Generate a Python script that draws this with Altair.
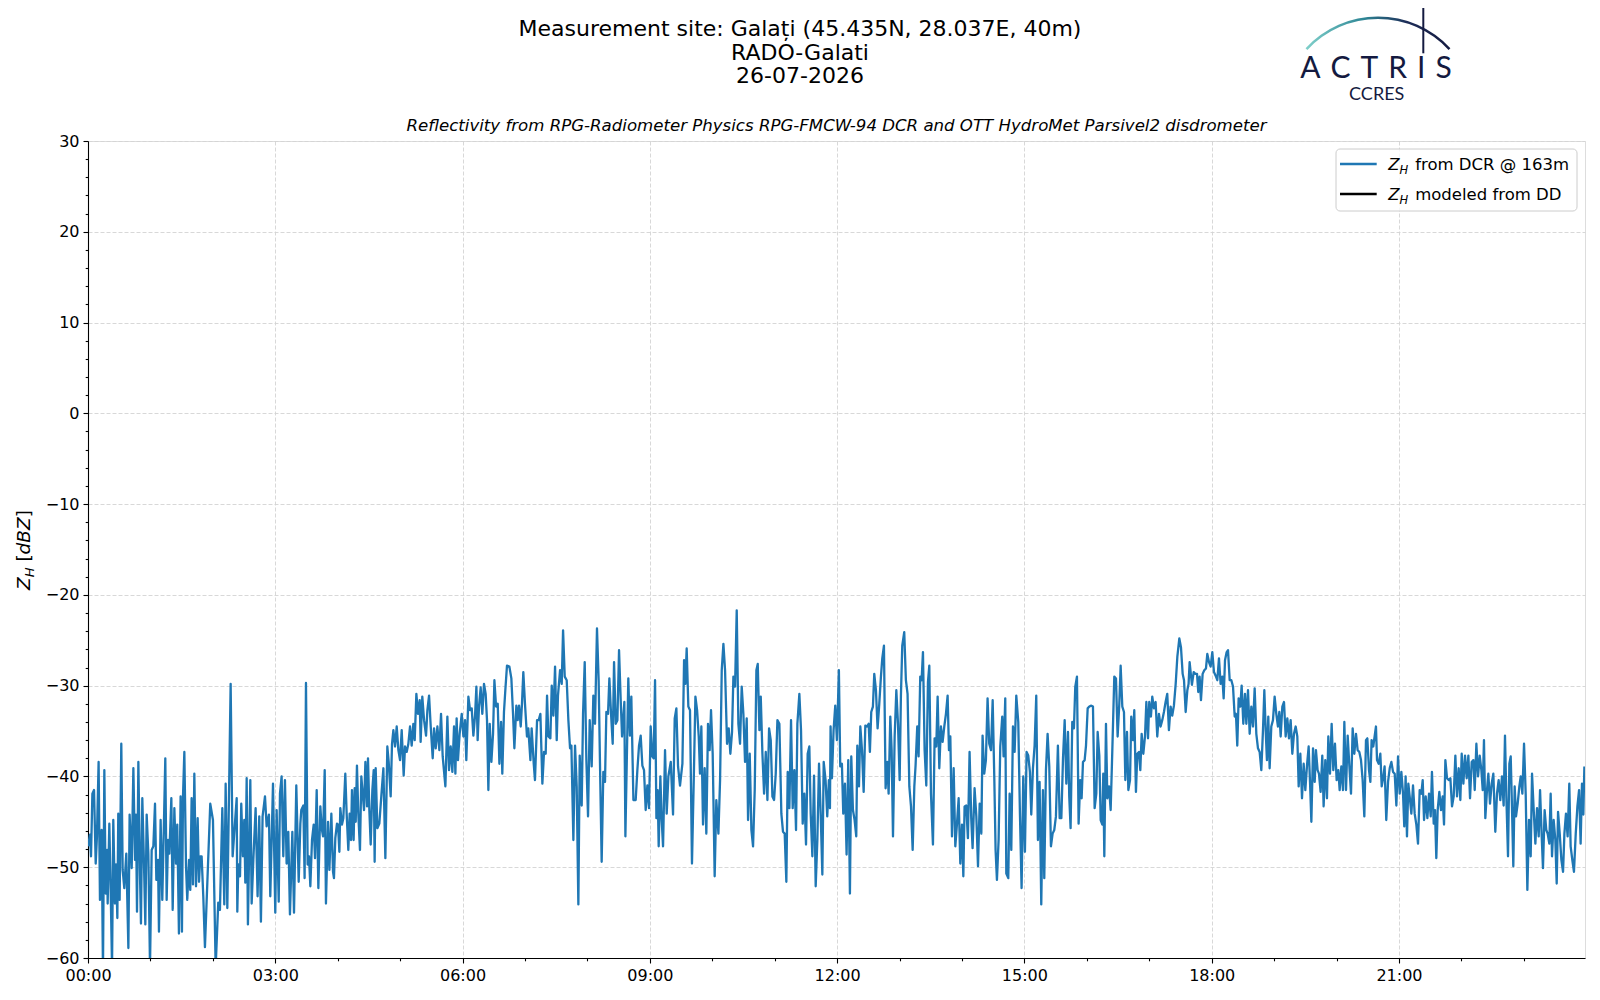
import altair as alt
import pandas as pd

# ---------------- data: [minutes after 00:00, Z_H dBZ] ----------------
zh_00_03 = [[0.0,-47.7],[1.9,-46.4],[2.9,-48.8],[4.2,-41.9],[5.8,-41.5],[7.4,-49.6],[8.6,-46.6],[10.2,-38.4],[11.5,-53.6],[13.1,-45.9],[14.4,-61.5],[15.7,-39.3],[17.0,-52.9],[18.3,-48.1],[18.9,-54.0],[20.5,-45.2],[21.8,-52.5],[23.1,-61.0],[24.3,-44.8],[25.9,-54.0],[26.9,-49.7],[28.2,-55.6],[29.1,-44.1],[30.4,-53.6],[32.0,-36.4],[33.3,-50.3],[34.9,-52.3],[36.8,-48.5],[38.8,-58.9],[40.0,-44.2],[42.0,-50.1],[43.6,-39.1],[45.2,-49.2],[46.1,-44.2],[47.1,-54.9],[48.4,-38.4],[50.0,-51.0],[50.9,-56.2],[52.2,-42.4],[53.8,-49.6],[55.1,-56.3],[56.4,-44.2],[58.0,-48.5],[59.6,-61.0],[61.2,-48.1],[62.8,-47.7],[64.4,-43.0],[65.7,-51.4],[67.3,-49.2],[68.2,-57.1],[69.8,-44.8],[71.4,-53.6],[74.3,-38.0],[75.6,-53.6],[76.9,-47.0],[78.2,-48.5],[80.1,-42.4],[81.4,-54.7],[83.0,-43.5],[84.6,-49.6],[85.8,-45.3],[87.4,-57.3],[89.0,-42.2],[90.3,-57.1],[91.3,-42.2],[92.6,-37.3],[94.2,-49.9],[95.4,-53.6],[97.1,-49.2],[98.3,-52.5],[99.6,-42.4],[100.9,-51.9],[102.2,-39.7],[103.8,-52.1],[105.4,-44.6],[106.7,-51.6],[107.9,-48.8],[109.2,-48.8],[110.8,-53.2],[112.4,-58.8],[117.5,-43.0],[120.1,-44.8],[122.7,-61.0],[125.2,-53.9],[126.8,-54.7],[129.1,-43.5],[131.0,-54.1],[132.3,-40.8],[133.9,-54.5],[137.1,-29.8],[139.0,-48.8],[142.9,-42.4],[143.5,-54.9],[144.5,-49.7],[146.1,-51.0],[147.3,-43.0],[148.9,-48.8],[150.2,-44.8],[151.2,-51.7],[152.5,-40.2],[153.7,-56.3],[156.0,-40.4],[157.3,-54.0],[158.9,-49.2],[161.1,-43.5],[163.0,-53.2],[164.6,-44.4],[166.2,-56.0],[167.8,-44.4],[170.1,-42.2],[171.7,-45.5],[173.9,-44.2],[175.2,-53.2],[177.8,-40.8],[180.0,-55.0]]

zh_03_06 = [[181.3,-43.7],[183.3,-53.8],[184.5,-41.9],[186.1,-40.0],[187.7,-48.8],[189.3,-40.4],[190.9,-49.6],[192.5,-46.1],[194.1,-55.2],[196.4,-46.1],[198.0,-55.0],[200.2,-41.0],[202.5,-51.6],[204.1,-45.2],[205.0,-43.7],[207.0,-43.2],[208.2,-51.2],[209.5,-29.7],[211.1,-49.7],[212.4,-48.8],[213.7,-52.1],[215.3,-47.0],[216.9,-45.3],[218.2,-49.0],[219.8,-41.5],[221.4,-52.3],[223.3,-43.3],[224.6,-45.7],[225.9,-46.6],[227.5,-39.3],[228.7,-54.0],[230.7,-45.0],[232.0,-50.3],[233.9,-44.1],[235.5,-50.5],[236.4,-51.2],[237.7,-46.8],[239.3,-45.2],[240.3,-45.3],[241.6,-48.3],[242.5,-43.5],[244.1,-45.3],[245.4,-44.6],[247.3,-39.7],[248.6,-44.1],[250.2,-48.1],[251.5,-44.1],[252.8,-47.0],[253.7,-41.5],[255.3,-47.0],[256.3,-41.3],[257.3,-45.0],[258.5,-38.8],[259.8,-44.1],[261.4,-48.1],[262.7,-40.0],[264.0,-41.9],[265.3,-43.7],[266.6,-38.4],[268.2,-43.3],[269.1,-38.0],[270.4,-43.7],[271.7,-47.5],[273.3,-41.5],[274.6,-39.3],[275.5,-49.4],[276.5,-39.1],[278.1,-45.7],[280.0,-45.2],[281.9,-42.2],[283.9,-39.1],[285.8,-49.0],[287.7,-36.7],[289.0,-38.4],[290.9,-42.2],[292.2,-36.4],[293.5,-34.9],[295.1,-36.7],[296.7,-34.5],[298.3,-37.1],[299.9,-38.2],[301.5,-34.9],[303.4,-39.9],[304.7,-36.7],[306.3,-37.3],[307.9,-36.4],[309.5,-34.5],[311.1,-36.6],[312.7,-34.2],[314.0,-36.0],[315.6,-30.9],[317.2,-33.1],[318.8,-31.6],[319.7,-36.2],[321.3,-31.2],[323.0,-33.8],[324.9,-35.5],[326.2,-32.7],[327.8,-31.1],[329.4,-34.5],[331.3,-38.0],[332.6,-34.7],[334.2,-36.9],[335.8,-34.5],[337.7,-37.1],[339.3,-33.1],[340.9,-37.8],[343.5,-41.1],[345.4,-33.4],[347.0,-39.3],[348.6,-36.7],[350.2,-39.5],[351.8,-34.5],[353.1,-39.7],[354.3,-33.6]]

zh_06_09 = [[355.6,-38.2],[357.2,-35.3],[359.2,-33.1],[360.8,-35.6],[362.4,-33.8],[363.6,-38.2],[365.6,-31.2],[367.2,-32.7],[368.8,-32.5],[370.4,-35.5],[372.0,-33.3],[373.3,-30.1],[374.5,-36.0],[375.8,-32.3],[377.4,-30.2],[379.0,-33.1],[380.6,-29.8],[382.2,-30.9],[383.5,-33.8],[384.8,-41.5],[386.1,-34.2],[387.7,-38.4],[389.3,-35.3],[390.6,-29.4],[392.2,-32.3],[393.8,-32.0],[395.4,-38.6],[397.0,-34.0],[398.2,-39.7],[399.8,-32.9],[401.1,-30.5],[402.7,-27.8],[405.0,-27.9],[406.9,-29.2],[408.5,-33.1],[409.8,-36.9],[411.7,-32.2],[413.0,-33.8],[414.3,-32.2],[415.9,-34.5],[417.1,-32.0],[418.4,-28.5],[420.0,-32.0],[421.9,-35.6],[423.2,-34.7],[425.2,-38.2],[426.4,-34.7],[428.4,-38.6],[429.6,-40.4],[431.6,-33.8],[433.2,-33.8],[434.8,-33.1],[436.7,-40.8],[438.3,-37.3],[439.9,-37.5],[441.2,-31.1],[442.5,-35.6],[444.4,-35.8],[445.7,-30.0],[447.3,-33.3],[448.9,-27.9],[450.5,-36.0],[451.7,-31.1],[453.7,-28.3],[455.3,-29.8],[456.6,-23.9],[458.2,-29.0],[460.1,-29.4],[461.7,-33.8],[463.3,-36.9],[464.6,-36.6],[466.5,-47.0],[468.1,-36.6],[469.7,-41.1],[471.3,-54.1],[472.6,-37.7],[474.5,-43.2],[475.8,-33.1],[477.4,-27.4],[479.0,-38.2],[480.6,-44.4],[482.2,-33.8],[484.1,-38.9],[485.7,-31.1],[487.3,-34.2],[489.2,-23.7],[490.8,-29.4],[492.4,-40.8],[493.7,-49.4],[495.3,-39.5],[496.9,-40.6],[498.2,-32.9],[499.8,-33.1],[501.1,-29.2],[502.7,-33.1],[504.3,-36.4],[505.6,-27.4],[507.2,-34.2],[508.8,-33.8],[510.4,-26.1],[512.0,-31.6],[513.3,-35.6],[515.5,-31.8],[516.5,-46.6],[518.1,-36.7],[519.3,-29.2],[520.9,-35.5],[522.2,-31.2],[524.2,-42.6]]

zh_09_12 = [[526.4,-42.6],[528.0,-39.3],[529.6,-36.6],[531.2,-35.5],[532.8,-38.8],[534.4,-39.3],[536.0,-43.7],[537.6,-41.0],[539.2,-43.5],[540.8,-34.5],[542.4,-37.8],[543.7,-38.0],[545.0,-29.4],[546.3,-44.6],[547.5,-41.5],[548.5,-47.7],[550.1,-40.0],[551.4,-44.8],[552.7,-47.7],[554.6,-37.1],[556.2,-44.1],[557.8,-40.0],[560.1,-38.4],[562.3,-44.2],[563.9,-33.6],[565.5,-32.5],[567.1,-38.9],[569.0,-41.0],[571.3,-38.6],[572.9,-27.2],[574.1,-29.8],[575.4,-25.9],[577.0,-32.3],[578.6,-32.7],[580.5,-49.6],[582.2,-40.4],[583.8,-31.2],[585.4,-32.7],[587.0,-35.6],[588.2,-39.7],[589.5,-34.5],[591.1,-45.3],[592.7,-39.1],[594.3,-46.3],[595.9,-34.2],[597.5,-37.1],[598.8,-32.7],[600.4,-37.5],[602.3,-51.0],[603.9,-42.6],[605.9,-46.3],[607.5,-40.4],[609.1,-28.3],[610.7,-25.4],[612.3,-28.3],[614.2,-36.4],[615.8,-34.7],[617.4,-37.5],[619.0,-35.1],[620.3,-29.0],[621.9,-30.1],[623.5,-21.7],[625.1,-34.2],[626.7,-36.4],[628.3,-30.1],[629.9,-33.1],[631.5,-38.4],[633.1,-33.6],[634.4,-44.8],[636.0,-37.5],[637.6,-45.9],[639.2,-47.7],[640.8,-41.5],[642.4,-28.3],[643.7,-27.6],[645.3,-34.9],[646.6,-31.2],[648.2,-37.5],[649.8,-41.9],[651.4,-37.3],[653.0,-42.6],[654.6,-34.7],[656.2,-36.0],[657.8,-42.2],[659.4,-42.6],[661.0,-39.7],[662.6,-33.8],[664.5,-34.2],[666.4,-44.1],[668.0,-46.1],[669.6,-46.3],[671.2,-51.6],[672.5,-39.5],[674.1,-43.5],[675.7,-33.8],[677.3,-43.5],[678.9,-39.3],[680.5,-45.9],[681.8,-34.2],[683.7,-30.9],[685.3,-34.9],[686.9,-45.2],[688.5,-41.9],[690.1,-47.5],[691.7,-37.5],[693.3,-36.7],[694.6,-44.1],[696.2,-48.8],[697.8,-39.9],[699.4,-52.1],[701.0,-47.0],[702.6,-38.6],[704.2,-44.1],[705.8,-50.8],[707.1,-38.4]]

zh_12_15 = [[708.9,-40.4],[710.5,-44.4],[712.1,-40.4],[713.1,-43.5],[713.7,-34.5],[715.0,-40.2],[716.6,-34.9],[718.2,-32.2],[719.8,-36.0],[721.7,-28.3],[723.0,-38.9],[724.6,-38.6],[725.9,-44.1],[727.5,-40.8],[729.1,-48.6],[730.7,-38.2],[732.3,-52.9],[733.6,-37.8],[735.2,-43.7],[736.8,-44.8],[738.4,-46.6],[739.4,-36.6],[741.0,-41.1],[742.3,-34.5],[743.9,-37.1],[745.5,-41.7],[747.1,-34.4],[748.7,-34.5],[750.3,-34.2],[751.5,-37.3],[752.8,-32.9],[754.4,-32.3],[755.7,-28.7],[757.3,-30.5],[758.9,-34.7],[760.5,-32.0],[762.1,-29.0],[763.4,-27.0],[765.0,-25.6],[766.6,-41.3],[768.2,-38.4],[769.5,-41.9],[771.1,-33.4],[772.4,-37.1],[773.7,-46.6],[775.3,-35.6],[776.9,-30.5],[778.5,-34.2],[780.1,-40.4],[781.3,-31.2],[782.6,-25.6],[784.5,-24.1],[786.1,-29.4],[787.7,-30.9],[789.4,-41.1],[791.0,-43.3],[792.6,-48.1],[794.2,-41.1],[795.4,-38.8],[797.0,-34.5],[798.3,-37.8],[799.9,-29.0],[801.2,-29.4],[802.5,-26.3],[804.1,-37.1],[805.7,-41.0],[807.3,-29.6],[808.6,-27.8],[810.2,-41.9],[812.1,-47.5],[813.7,-35.8],[815.3,-36.7],[816.6,-31.2],[818.2,-39.1],[819.8,-34.5],[821.4,-36.2],[823.0,-34.5],[824.6,-33.1],[826.2,-31.1],[827.5,-37.1],[828.8,-35.6],[830.4,-46.6],[832.0,-39.1],[833.6,-47.7],[835.2,-45.2],[836.8,-42.4],[838.4,-49.6],[840.0,-45.3],[841.3,-51.0],[842.5,-43.3],[844.1,-43.2],[845.7,-46.8],[847.3,-37.3],[848.9,-44.6],[850.2,-47.9],[852.1,-41.3],[853.8,-44.4],[855.4,-49.9],[857.0,-43.0],[858.6,-46.3],[859.8,-35.5],[861.4,-39.7],[863.0,-38.2],[864.6,-31.4],[866.2,-36.4],[867.9,-37.1],[869.5,-31.6],[871.1,-40.4],[872.3,-48.1],[873.6,-51.4],[875.2,-47.0],[876.8,-36.7],[878.7,-33.4],[880.0,-37.8],[881.6,-31.4],[882.6,-50.7]]

zh_15_18 = [[884.5,-51.2],[885.8,-41.9],[887.4,-48.1],[889.0,-34.5],[890.6,-37.3],[892.2,-31.1],[894.1,-34.0],[895.7,-44.1],[897.3,-52.3],[898.9,-40.0],[900.5,-48.3],[902.1,-37.3],[903.7,-37.7],[905.3,-39.5],[906.6,-44.2],[908.2,-39.1],[909.8,-36.6],[911.4,-31.1],[913.0,-47.0],[914.6,-40.6],[916.2,-54.1],[917.8,-41.5],[919.1,-51.2],[920.7,-39.3],[922.3,-35.3],[923.9,-38.9],[925.5,-47.7],[927.1,-46.3],[928.7,-45.9],[930.3,-44.4],[932.2,-36.6],[933.9,-44.6],[935.5,-44.6],[937.1,-38.0],[938.7,-33.8],[940.3,-40.8],[941.9,-35.1],[943.1,-42.2],[944.4,-45.7],[946.0,-34.0],[947.6,-34.7],[948.9,-30.1],[950.5,-29.0],[952.1,-45.2],[953.7,-40.4],[955.0,-42.4],[956.3,-38.4],[957.9,-38.2],[959.2,-36.6],[960.8,-32.5],[962.4,-32.3],[964.3,-32.2],[965.9,-32.3],[967.5,-43.5],[969.1,-41.9],[970.4,-35.1],[972.0,-37.7],[973.3,-44.8],[974.9,-45.3],[975.8,-39.7],[976.8,-48.8],[978.4,-34.2],[979.7,-42.4],[981.3,-41.1],[982.9,-43.7],[984.5,-37.1],[986.4,-29.0],[988.0,-29.2],[989.6,-35.6],[991.2,-32.0],[992.5,-27.8],[994.1,-32.3],[995.7,-32.9],[997.0,-40.4],[998.6,-35.1],[999.9,-41.5],[1001.5,-40.4],[1002.7,-33.4],[1004.3,-36.0],[1005.6,-32.7],[1007.2,-41.7],[1008.5,-37.5],[1010.1,-37.3],[1011.4,-39.3],[1012.7,-35.3],[1014.3,-37.5],[1015.9,-35.6],[1017.2,-31.8],[1018.8,-35.8],[1020.0,-31.8],[1021.6,-33.4],[1022.9,-31.2],[1024.5,-32.5],[1026.1,-31.8],[1027.7,-35.6],[1029.3,-33.1],[1030.9,-34.5],[1032.5,-33.8],[1034.1,-32.9],[1035.7,-31.8],[1037.3,-30.9],[1038.9,-34.9],[1040.5,-32.3],[1042.1,-33.3],[1043.7,-32.2],[1045.4,-29.8],[1047.0,-26.8],[1048.9,-24.8],[1050.5,-25.8],[1052.1,-28.7],[1053.4,-29.4],[1055.0,-32.9],[1056.6,-30.5],[1057.8,-29.8],[1058.8,-27.4]]

zh_18_21 = [[1061.0,-29.9],[1062.7,-28.5],[1064.3,-28.7],[1065.9,-28.7],[1067.1,-30.7],[1068.4,-29.0],[1069.7,-31.6],[1071.3,-28.7],[1072.9,-28.3],[1074.5,-28.1],[1075.8,-26.5],[1077.4,-27.4],[1079.0,-27.9],[1080.6,-26.3],[1082.2,-28.5],[1083.8,-28.9],[1085.4,-29.4],[1087.0,-27.0],[1088.6,-29.8],[1090.2,-29.0],[1091.5,-31.4],[1092.8,-27.2],[1094.4,-26.3],[1095.7,-26.1],[1097.3,-29.4],[1098.9,-29.4],[1100.5,-30.1],[1102.1,-33.4],[1103.3,-33.1],[1104.6,-36.6],[1105.9,-31.4],[1107.5,-32.3],[1108.8,-30.0],[1110.4,-34.2],[1112.0,-30.9],[1113.3,-34.2],[1114.9,-30.5],[1116.5,-35.3],[1118.1,-32.3],[1119.7,-34.5],[1121.3,-30.3],[1122.9,-35.3],[1124.5,-36.9],[1126.1,-37.3],[1127.7,-39.3],[1129.3,-34.9],[1130.6,-30.5],[1131.9,-34.9],[1133.1,-38.2],[1134.4,-33.4],[1135.7,-39.1],[1137.3,-34.5],[1138.9,-33.8],[1140.5,-31.2],[1142.1,-33.1],[1143.7,-34.5],[1145.0,-32.9],[1146.3,-35.6],[1147.9,-32.3],[1149.5,-31.8],[1151.1,-35.6],[1152.7,-33.6],[1154.3,-35.8],[1155.9,-33.8],[1157.5,-37.5],[1159.1,-35.3],[1160.7,-34.5],[1162.3,-35.6],[1163.6,-41.1],[1165.2,-37.5],[1166.8,-42.4],[1168.4,-38.6],[1170.0,-41.5],[1171.6,-38.8],[1173.2,-36.7],[1174.5,-40.6],[1175.8,-45.0],[1177.4,-36.9],[1179.0,-40.6],[1180.2,-37.1],[1181.8,-39.3],[1183.1,-39.7],[1184.7,-41.7],[1186.3,-37.7],[1187.6,-43.3],[1189.2,-38.2],[1190.8,-42.4],[1192.1,-35.6],[1193.7,-39.7],[1195.3,-34.2],[1196.9,-39.3],[1198.5,-36.4],[1200.1,-40.4],[1201.7,-39.3],[1203.0,-41.5],[1204.6,-38.9],[1206.2,-41.5],[1207.5,-34.0],[1209.1,-41.5],[1210.7,-35.5],[1212.3,-38.8],[1213.9,-41.9],[1215.5,-34.7],[1217.1,-37.5],[1218.7,-35.3],[1220.3,-37.1],[1221.9,-37.3],[1223.5,-38.2],[1225.1,-40.4],[1226.7,-44.4],[1228.3,-36.0],[1229.6,-35.8],[1231.2,-39.3],[1232.5,-40.6],[1233.7,-36.0]]

zh_21_24 = [[1235.3,-36.7],[1237.9,-34.5],[1238.9,-38.2],[1240.5,-38.6],[1242.1,-37.5],[1243.4,-41.1],[1245.0,-40.0],[1246.2,-38.9],[1247.8,-44.8],[1249.5,-40.6],[1251.1,-39.1],[1252.7,-38.4],[1254.3,-39.5],[1255.9,-39.7],[1257.5,-43.2],[1259.1,-37.8],[1260.7,-41.9],[1262.3,-39.5],[1263.9,-41.9],[1265.1,-45.5],[1266.4,-40.0],[1267.7,-46.6],[1269.0,-40.8],[1270.3,-42.2],[1271.9,-44.1],[1273.5,-41.0],[1275.1,-44.1],[1276.7,-45.3],[1278.3,-47.4],[1279.9,-41.5],[1281.5,-41.9],[1282.8,-40.4],[1284.1,-44.8],[1285.7,-42.2],[1287.3,-44.6],[1288.9,-41.9],[1290.5,-44.4],[1291.7,-39.5],[1293.4,-45.2],[1294.6,-43.7],[1295.9,-49.0],[1297.2,-43.7],[1298.8,-41.7],[1300.4,-43.7],[1302.0,-42.2],[1303.3,-45.3],[1304.6,-38.2],[1306.2,-40.2],[1307.8,-40.4],[1309.4,-40.2],[1311.0,-43.3],[1312.6,-42.2],[1314.2,-37.7],[1315.8,-42.2],[1317.4,-39.1],[1319.0,-42.6],[1320.3,-37.5],[1321.9,-40.8],[1323.5,-37.7],[1325.1,-40.2],[1326.7,-37.7],[1328.3,-42.4],[1329.9,-38.4],[1331.5,-38.2],[1332.8,-41.5],[1334.4,-36.4],[1336.0,-40.0],[1337.6,-37.7],[1339.2,-39.3],[1340.5,-41.5],[1341.7,-36.0],[1343.0,-44.6],[1344.6,-41.5],[1345.9,-39.7],[1347.5,-43.0],[1349.1,-40.8],[1350.7,-39.7],[1352.6,-46.1],[1354.2,-41.9],[1355.8,-40.4],[1357.4,-42.6],[1359.0,-40.0],[1360.6,-43.2],[1361.9,-35.5],[1363.2,-42.2],[1364.8,-48.8],[1366.1,-38.6],[1367.4,-37.8],[1368.6,-43.3],[1369.9,-49.9],[1371.2,-41.1],[1372.5,-44.4],[1374.1,-43.0],[1375.7,-41.1],[1377.0,-40.0],[1378.6,-41.9],[1380.2,-36.4],[1381.8,-41.9],[1383.4,-52.5],[1385.0,-44.8],[1386.6,-48.8],[1387.9,-39.7],[1389.5,-43.7],[1391.1,-47.4],[1392.7,-43.5],[1394.3,-46.6],[1395.6,-41.5],[1397.2,-46.6],[1398.4,-50.1],[1400.0,-43.7],[1401.6,-45.9],[1402.9,-46.3],[1404.5,-47.4],[1405.8,-41.9],[1407.1,-48.8],[1408.7,-44.8],[1410.3,-47.0],[1411.6,-51.8],[1412.9,-43.9],[1414.5,-46.3],[1416.1,-49.2],[1417.7,-50.5],[1419.0,-46.3],[1420.5,-44.1],[1422.1,-46.6],[1423.7,-40.8],[1425.0,-47.7],[1426.6,-49.2],[1428.2,-50.5],[1429.9,-46.3],[1431.5,-43.3],[1433.1,-41.5],[1434.6,-47.4],[1435.9,-40.8],[1437.2,-44.2],[1438.2,-38.9]]

x_minor_ticks = list(range(0, 24))          # hours, labels every 3 h
y_minor_ticks = list(range(-60, 31, 2))     # dBZ, labels every 10

title_lines = ["Measurement site: Galați (45.435N, 28.037E, 40m)", "RADO-Galati", "26-07-2026"]
subtitle = "Reflectivity from RPG-Radiometer Physics RPG-FMCW-94 DCR and OTT HydroMet Parsivel2 disdrometer"
legend_rest = ["from DCR @ 163m", "modeled from DD"]

segments = [zh_00_03, zh_03_06, zh_06_09, zh_09_12, zh_12_15, zh_15_18, zh_18_21, zh_21_24]
rows = [p for seg in segments for p in seg]
df = pd.DataFrame(rows, columns=["minute", "zh"])
df["hour"] = df["minute"] / 60.0

W, H = 1497, 817
FONT = "DejaVu Sans"
BLUE = "#1f77b4"
NAVY = "#141a40"

one = pd.DataFrame({"a": [0]})


def txt(text, x, y, size, **kw):
    return alt.Chart(one).mark_text(text=text, font=FONT, fontSize=size, color="black", **kw).encode(
        x=alt.value(x), y=alt.value(y))


major_x = "datum.value % 3 === 0"
major_y = "datum.value % 10 === 0"

line = alt.Chart(df).mark_line(color=BLUE, strokeWidth=2.3, clip=True, strokeJoin="round").encode(
    x=alt.X("hour:Q",
            scale=alt.Scale(domain=[0, 23.98], nice=False, zero=False),
            axis=alt.Axis(values=x_minor_ticks, title=None,
                          labelExpr="datum.value % 3 === 0 ? (datum.value < 10 ? '0' : '') + datum.value + ':00' : ''",
                          labelOverlap=False, labelFlush=False, labelBound=False,
                          labelFont=FONT, labelFontSize=16, labelColor="black", labelPadding=4,
                          grid=True, gridDash=[4, 2], gridColor="#d4d4d4", gridWidth=0.9,
                          gridOpacity={"condition": {"test": major_x, "value": 1}, "value": 0},
                          tickSize={"condition": {"test": major_x, "value": 5}, "value": 2.8},
                          tickColor="black", tickWidth=1.1, domainColor="black", domainWidth=1.1)),
    y=alt.Y("zh:Q",
            scale=alt.Scale(domain=[-60, 30], nice=False, zero=False),
            axis=alt.Axis(values=y_minor_ticks, title=None,
                          labelExpr="datum.value % 10 === 0 ? replace(toString(datum.value), '-', '\u2212') : ''",
                          labelOverlap=False, labelFlush=False, labelBound=False,
                          labelFont=FONT, labelFontSize=16, labelColor="black", labelPadding=4,
                          grid=True, gridDash=[4, 2], gridColor="#d4d4d4", gridWidth=0.9,
                          gridOpacity={"condition": {"test": major_y, "value": 1}, "value": 0},
                          tickSize={"condition": {"test": major_y, "value": 5}, "value": 2.8},
                          tickColor="black", tickWidth=1.1, domainColor="black", domainWidth=1.1)),
)

layers = [line]

# titles
cx = 800 - 88
for t, yy in zip(title_lines, [-112, -88.5, -65]):
    layers.append(txt(t, cx, yy, 22, align="center", baseline="middle"))
layers.append(txt(subtitle, W / 2, -15.5, 16.6, align="center", baseline="middle", fontStyle="italic"))

# y-axis title  Z_H [dBZ]
yb = -58.5
y0 = 449
layers.append(txt("Z", yb, y0, 18.5, angle=270, align="left", baseline="alphabetic", fontStyle="italic"))
layers.append(txt("H", yb + 4, y0 - 12.7, 13, angle=270, align="left", baseline="alphabetic", fontStyle="italic"))
layers.append(txt("[", yb, y0 - 28.4, 18.5, angle=270, align="left", baseline="alphabetic"))
layers.append(txt("dBZ", yb, y0 - 35.6, 18.5, angle=270, align="left", baseline="alphabetic", fontStyle="italic"))
layers.append(txt("]", yb, y0 - 72.7, 18.5, angle=270, align="left", baseline="alphabetic"))

# legend
layers.append(alt.Chart(one).mark_rect(cornerRadius=4, fill="white", fillOpacity=0.8, stroke="#cccccc",
                                       strokeWidth=1).encode(
    x=alt.value(1248), x2=alt.value(1489), y=alt.value(8), y2=alt.value(70)))
for col, yy, rest in [(BLUE, 23, legend_rest[0]), ("black", 53, legend_rest[1])]:
    layers.append(alt.Chart(one).mark_rule(color=col, strokeWidth=2.3).encode(
        x=alt.value(1252), x2=alt.value(1288.7), y=alt.value(yy)))
    bl = yy + 6
    layers.append(txt("Z", 1300.3, bl, 16.5, align="left", baseline="alphabetic", fontStyle="italic"))
    layers.append(txt("H", 1311.6, bl + 3.5, 11.5, align="left", baseline="alphabetic", fontStyle="italic"))
    layers.append(txt(rest, 1327.2, bl, 16.5, align="left", baseline="alphabetic"))

# ACTRIS / CCRES logo
grad = alt.LinearGradient(gradient="linear", x1=0, x2=1, y1=0, y2=0,
                          stops=[alt.GradientStop(color="#7fd0ca", offset=0),
                                 alt.GradientStop(color="#2f8796", offset=0.4),
                                 alt.GradientStop(color="#1d2d58", offset=0.7),
                                 alt.GradientStop(color=NAVY, offset=1)])
layers.append(alt.Chart(one).mark_arc(theta=5.457, theta2=7.109, radius=98.5, radius2=96, fill=grad).encode(
    x=alt.value(1290), y=alt.value(-26)))
layers.append(alt.Chart(one).mark_rule(color=NAVY, strokeWidth=2).encode(
    x=alt.value(1335.3), y=alt.value(-133), y2=alt.value(-87.7)))
logo_word = "\u2004".join("ACTRIS")
layers.append(alt.Chart(one).mark_text(text=logo_word, font="Lato", fontSize=30, color=NAVY,
                                       align="center", baseline="alphabetic").encode(
    x=alt.value(1288), y=alt.value(-62.7)))
layers.append(alt.Chart(one).mark_text(text="CCRES", font="Lato", fontSize=18, color=NAVY,
                                       align="center", baseline="alphabetic").encode(
    x=alt.value(1288.7), y=alt.value(-41)))

chart = alt.layer(*layers).properties(
    width=W, height=H, autosize="none",
    padding={"left": 80, "top": 133, "right": 5, "bottom": 30},
).configure_view(stroke="black", strokeWidth=1.1).configure(background="white")

chart.save("out.html", embed_options={"renderer": "svg", "actions": False})
